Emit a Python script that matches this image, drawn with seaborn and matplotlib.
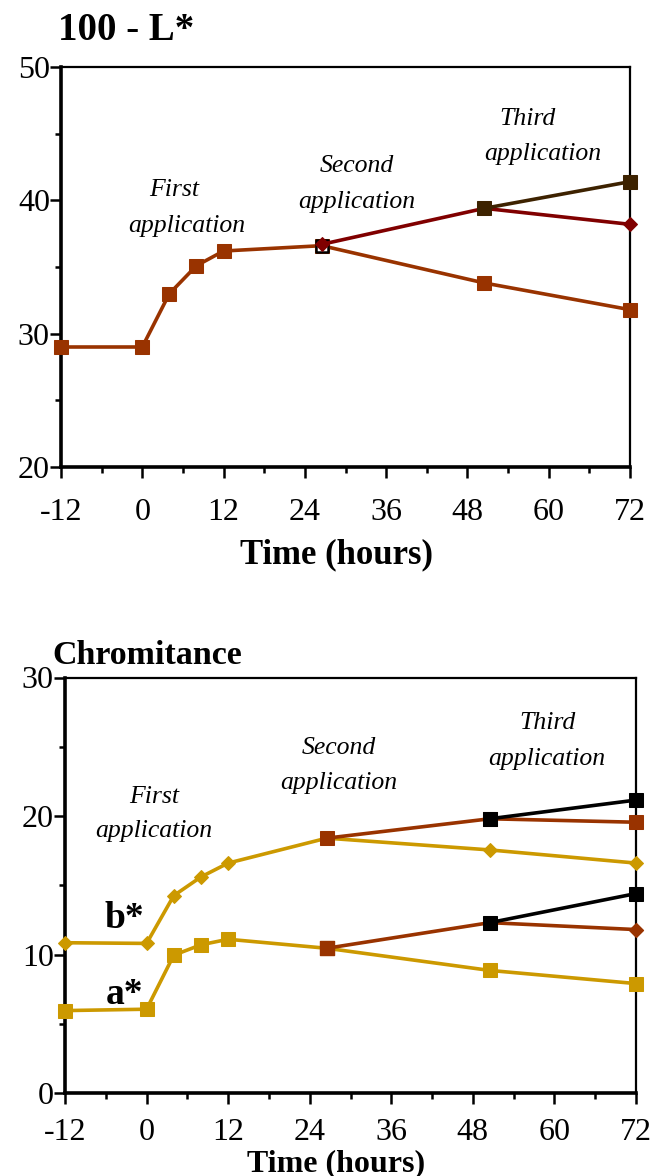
import matplotlib
matplotlib.use("Agg")
import matplotlib.pyplot as plt
import seaborn as sns
import pandas as pd
from matplotlib.ticker import MultipleLocator

# ---------------- data ----------------
hours_base = [-12, 0, 4, 8, 12, 26.5, 50.5, 72]
hours_second = [26.5, 50.5, 72]
hours_third = [50.5, 72]

L_base = [29.0, 29.0, 33.0, 35.1, 36.2, 36.6, 33.8, 31.8]
L_second = [36.7, 39.4, 38.2]
L_third = [39.4, 41.4]

b_base = [10.85, 10.8, 14.25, 15.6, 16.6, 18.4, 17.55, 16.6]
b_second = [18.4, 19.8, 19.55]
b_third = [19.8, 21.15]

a_base = [5.95, 6.05, 9.95, 10.7, 11.1, 10.45, 8.85, 7.9]
a_second = [10.45, 12.3, 11.8]
a_third = [12.3, 14.4]

x_ticks = [-12, 0, 12, 24, 36, 48, 60, 72]
annotations = ["First", "Second", "Third"]

# ---------------- style ----------------
sns.set_style("ticks")
plt.rcParams["font.family"] = ["Liberation Serif", "DejaVu Serif"]
for k in ["text.color", "axes.labelcolor", "xtick.color", "ytick.color",
          "axes.edgecolor"]:
    plt.rcParams[k] = "black"

ORANGE = "#993300"
DARKRED = "#800000"
DARKBROWN = "#3D2200"
GOLD = "#CC9900"
BLACK = "#000000"

fig = plt.figure(figsize=(6.58, 11.76), dpi=100)
ax1 = fig.add_axes([61 / 658, 1 - 467 / 1176, 569 / 658, 400 / 1176])
ax2 = fig.add_axes([65 / 658, 1 - 1093 / 1176, 571 / 658, 415.5 / 1176])

LW = 2.6
MS_SQ = 9.5
MS_D = 7


def series(ax, x, y, color, marker, ms, z):
    df = pd.DataFrame({"x": x, "y": y})
    sns.lineplot(data=df, x="x", y="y", ax=ax, color=color, lw=LW,
                 marker=marker, markersize=ms, markeredgecolor=color,
                 markerfacecolor=color, sort=False, estimator=None,
                 zorder=z, clip_on=False)


def style_axes(ax, ymin, ymax, xpad, xlabsize):
    ax.set_xlim(-12, 72)
    ax.set_ylim(ymin, ymax)
    ax.set_xticks(x_ticks)
    ax.set_xticklabels([str(t) for t in x_ticks])
    ax.xaxis.set_minor_locator(MultipleLocator(6))
    ax.yaxis.set_major_locator(MultipleLocator(10))
    ax.yaxis.set_minor_locator(MultipleLocator(5))
    ax.tick_params(which="major", direction="out", length=8, width=1.8,
                   labelsize=23, color="black", labelcolor="black")
    ax.tick_params(which="minor", direction="out", length=4, width=1.8)
    ax.tick_params(axis="x", which="major", pad=xpad)
    ax.tick_params(axis="y", which="major", pad=0)
    for s in ["left", "bottom"]:
        ax.spines[s].set_linewidth(2.6)
    for s in ["top", "right"]:
        ax.spines[s].set_linewidth(1.6)
    for s in ax.spines.values():
        s.set_color("black")
        s.set_visible(True)
    ax.set_ylabel("")
    ax.set_xlabel("Time (hours)", fontsize=xlabsize, fontweight="bold",
                  color="black")
    ax.xaxis.label.set_va("center")


# ---------------- top panel: 100 - L* ----------------
series(ax1, hours_base, L_base, ORANGE, "s", MS_SQ, 3)
ax1.scatter([hours_base[5]], [L_base[5]], marker="s", s=80, facecolor="white",
            edgecolor="black", linewidth=1.8, zorder=4)
series(ax1, hours_second, L_second, DARKRED, "D", MS_D, 5)
series(ax1, hours_third, L_third, DARKBROWN, "s", MS_SQ, 6)
style_axes(ax1, 20, 50, 14, 25)
ax1.xaxis.set_label_coords(0.485, -0.22)

fig.text(58 / 658, 1 - 30 / 1176, "100 - L*", fontsize=28, fontweight="bold",
         ha="left", va="center")

it = dict(fontsize=18.5, style="italic", ha="center", va="center")
ax1.text(4.7, 40.75, annotations[0], **it)
ax1.text(6.6, 38.1, "application", **it)
ax1.text(31.6, 42.6, annotations[1], **it)
ax1.text(31.6, 39.9, "application", **it)
ax1.text(56.8, 46.1, annotations[2], **it)
ax1.text(59.1, 43.5, "application", **it)

# ---------------- bottom panel: Chromitance ----------------
series(ax2, hours_base, b_base, GOLD, "D", MS_D, 3)
series(ax2, hours_base, a_base, GOLD, "s", MS_SQ, 3)
series(ax2, hours_second, b_second, ORANGE, "s", MS_SQ, 5)
series(ax2, hours_second, a_second, ORANGE, None, 0, 5)
ax2.scatter([hours_second[0]], [a_second[0]], marker="s", s=90, color=ORANGE,
            zorder=5, clip_on=False)
ax2.scatter([hours_second[-1]], [a_second[-1]], marker="D", s=50, color=ORANGE,
            zorder=5, clip_on=False)
series(ax2, hours_third, b_third, BLACK, "s", MS_SQ, 6)
series(ax2, hours_third, a_third, BLACK, "s", MS_SQ, 6)
style_axes(ax2, 0, 30, 10, 23)
ax2.xaxis.set_label_coords(0.475, -0.17)

fig.text(52 / 658, 1 - 656 / 1176, "Chromitance", fontsize=24.5,
         fontweight="bold", ha="left", va="center")

ax2.text(1.1, 21.4, annotations[0], **it)
ax2.text(1.1, 18.9, "application", **it)
ax2.text(28.3, 24.9, annotations[1], **it)
ax2.text(28.3, 22.4, "application", **it)
ax2.text(58.9, 26.7, annotations[2], **it)
ax2.text(58.9, 24.1, "application", **it)
ax2.text(-3.3, 12.6, "b*", fontsize=27, fontweight="bold", ha="center",
         va="center")
ax2.text(-3.3, 7.1, "a*", fontsize=27, fontweight="bold", ha="center",
         va="center")

fig.savefig("out.png", dpi=100, facecolor="white")
